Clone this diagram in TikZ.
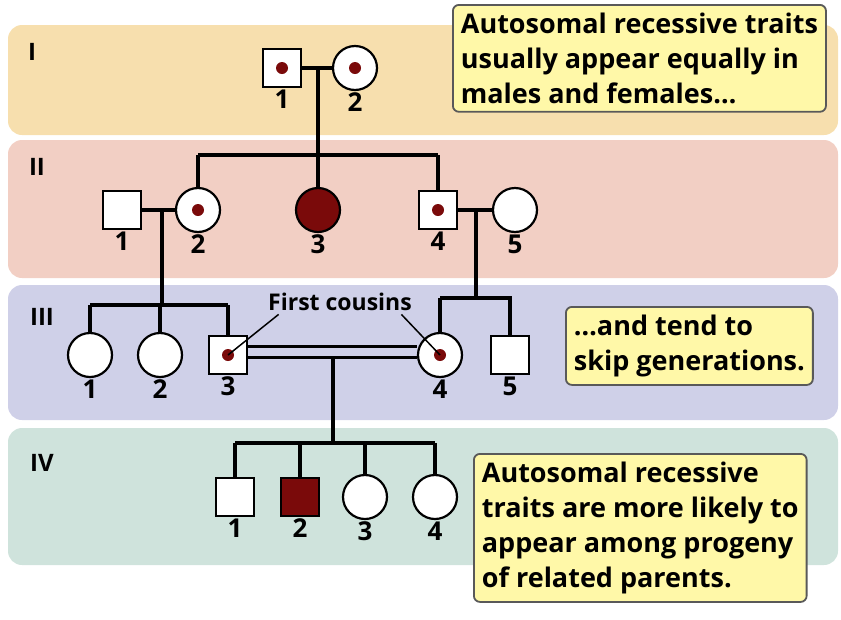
\documentclass[tikz,border=0pt]{standalone}
\usepackage{fontspec}
\setmainfont{Open Sans}
\usetikzlibrary{positioning}
\definecolor{bandI}{HTML}{F7DFAE}
\definecolor{bandII}{HTML}{F2CFC4}
\definecolor{bandIII}{HTML}{CFD0E8}
\definecolor{bandIV}{HTML}{CFE3DC}
\definecolor{note}{HTML}{FFF8A8}
\definecolor{trait}{HTML}{7A0A0A}
\tikzset{
  male/.style={draw,line width=2.2pt,fill=white,minimum size=38pt,inner sep=0pt},
  female/.style={draw,circle,line width=2.2pt,fill=white,minimum size=44pt,inner sep=0pt},
  carrier/.style={path picture={\fill[trait] (path picture bounding box.center) circle (6pt);}},
  affected/.style={fill=trait},
  num/.style={font=\bfseries\fontsize{26}{28}\selectfont},
  gen/.style={font=\bfseries\fontsize{24}{26}\selectfont},
  band/.style={rounded corners=14pt},
  notebox/.style={draw=gray!70!black,line width=1.8pt,fill=note,rounded corners=6pt,
    align=left,font=\bfseries\fontsize{27}{35}\selectfont,inner sep=8pt,anchor=north west},
  link/.style={line width=3.4pt}
}
\begin{document}
\begin{tikzpicture}[x=1pt,y=-1pt]
\useasboundingbox (0,0) rectangle (841,619);

% generation bands
\fill[bandI,band] (8,25) rectangle (838,135);
\fill[bandII,band] (8,140) rectangle (838,278);
\fill[bandIII,band] (8,285) rectangle (838,420);
\fill[bandIV,band] (8,428) rectangle (838,565);
\node[gen] at (32,52) {I};
\node[gen] at (37,167) {II};
\node[gen] at (42,317) {III};
\node[gen] at (42,463) {IV};

% generation I
\node[male,carrier] (i1) at (282,68) {};
\node[female,carrier] (i2) at (355,68) {};
\draw[link] (i1) -- (i2);
\coordinate (iu) at (318,68);
\coordinate (iid) at (318,155);
\draw[link] (iu) -- (iid);
\draw[link] (198,155) -- (438,155);

% generation II
\node[male] (ii1) at (122,210) {};
\node[female,carrier] (ii2) at (198,210) {};
\node[female,affected] (ii3) at (318,210) {};
\node[male,carrier] (ii4) at (438,210) {};
\node[female] (ii5) at (515,210) {};
\draw[link] (198,155) -- (ii2);
\draw[link] (iid) -- (ii3);
\draw[link] (438,155) -- (ii4);
\draw[link] (ii1) -- (ii2);
\draw[link] (ii4) -- (ii5);
\draw[link] (162,210) -- (162,305);
\draw[link] (476,210) -- (476,298);

% generation III
\node[female] (iii1) at (90,355) {};
\node[female] (iii2) at (160,355) {};
\node[male,carrier] (iii3) at (228,355) {};
\node[female,carrier] (iii4) at (440,355) {};
\node[male] (iii5) at (510,355) {};
\draw[link] (90,305) -- (228,305);
\foreach \p in {iii1,iii2,iii3} \draw[link] (\p.north |- 0,305) -- (\p);
\draw[link] (440,298) -- (512,298);
\foreach \p in {iii4,iii5} \draw[link] (\p.north |- 0,298) -- (\p);
\draw[line width=3pt] (iii3.east |- 0,346) -- (iii4.west |- 0,346);
\draw[line width=3pt] (iii3.east |- 0,357) -- (iii4.west |- 0,357);
\draw[link] (333,357) -- (333,443);
\node[font=\bfseries\fontsize{23}{25}\selectfont] (cous) at (340,302) {First cousins};
\draw[line width=1.5pt] (cous.south west) ++(14,0) -- (iii3.center);
\draw[line width=1.5pt] (cous.south east) ++(-14,0) -- (iii4.center);

% generation IV
\node[male] (iv1) at (235,497) {};
\node[male,affected] (iv2) at (300,497) {};
\node[female] (iv3) at (365,497) {};
\node[female] (iv4) at (435,497) {};
\draw[link] (235,443) -- (435,443);
\foreach \p in {iv1,iv2,iv3,iv4} \draw[link] (\p.north |- 0,443) -- (\p);

% numbers
\foreach \p/\t in {i1/1,i2/2,ii1/1,ii2/2,ii3/3,ii4/4,ii5/5,iii1/1,iii2/2,iii3/3,iii4/4,iii5/5,iv1/1,iv2/2,iv3/3,iv4/4}
  \node[num,below=-2pt of \p] {\t};

% notes
\node[notebox] (n1) at (452,4) {Autosomal recessive traits\\usually appear equally in\\males and females\dots};
\node[notebox] (n2) at (565,306) {\dots and tend to\\skip generations.};
\node[notebox] (n3) at (473,453) {Autosomal recessive\\traits are more likely to\\appear among progeny\\of related parents.};
\end{tikzpicture}
\end{document}
